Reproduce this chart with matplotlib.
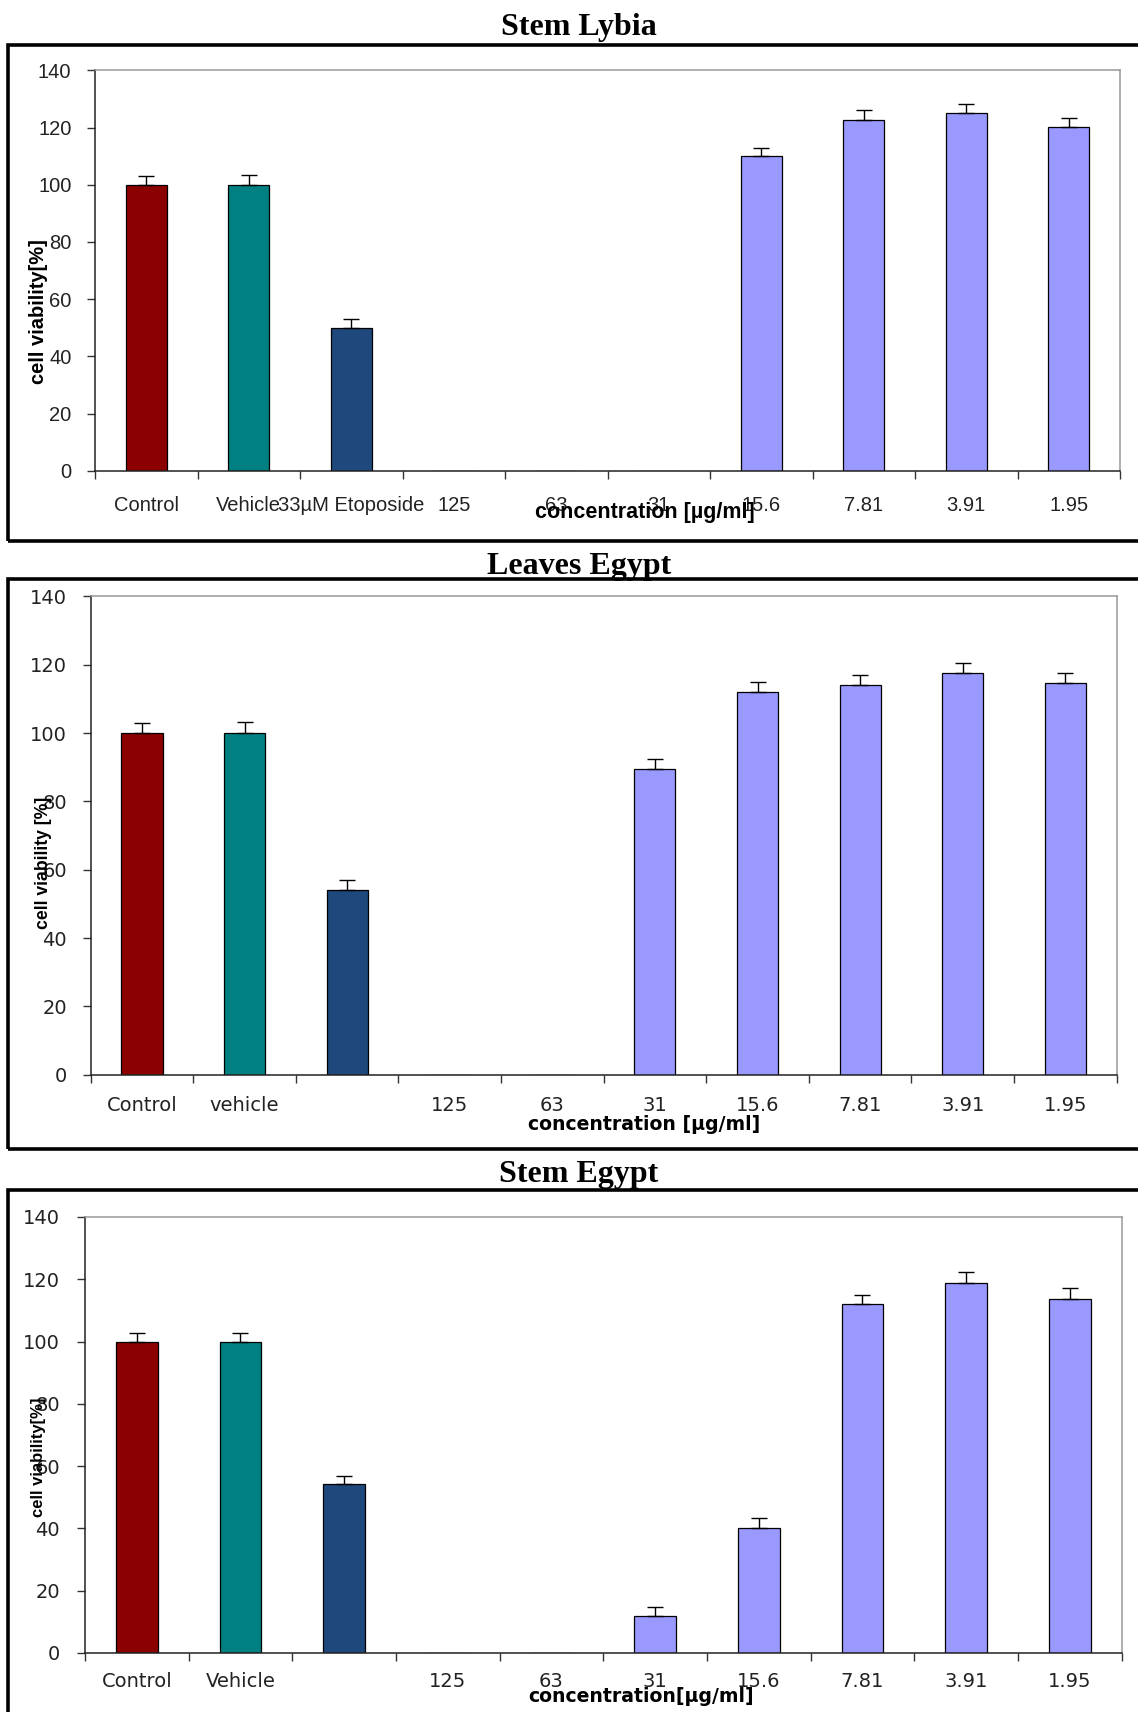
import numpy as np
import matplotlib
matplotlib.use("Agg")
import matplotlib.pyplot as plt
from matplotlib.patches import Rectangle

W, H = 1138, 1712

titles = ["Stem Lybia", "Leaves Egypt", "Stem Egypt"]

labels_lybia = ["Control", "Vehicle", "33µM Etoposide", "125", "63", "31",
                "15.6", "7.81", "3.91", "1.95"]
labels_leaves = ["Control", "vehicle", "", "125", "63", "31",
                 "15.6", "7.81", "3.91", "1.95"]
labels_stem_eg = ["Control", "Vehicle", "", "125", "63", "31",
                  "15.6", "7.81", "3.91", "1.95"]

viab_lybia = [100, 100, 50, 0, 0, 0, 110, 122.5, 125, 120.3]
err_lybia = [3, 3.5, 3, 0, 0, 0, 3, 3.5, 3.4, 3]

viab_leaves = [100, 100, 54, 0, 0, 89.5, 112, 114, 117.7, 114.8]
err_leaves = [3, 3.4, 3, 0, 0, 3, 2.9, 3, 2.9, 2.9]

viab_stem_eg = [100, 100, 54.3, 0, 0, 11.8, 40, 112.2, 118.7, 113.8]
err_stem_eg = [2.9, 2.9, 2.5, 0, 0, 2.9, 3.4, 2.6, 3.6, 3.5]

ylabels = ["cell viability[%]", "cell viability [%]", "cell viability[%]"]
xlabels = ["concentration [µg/ml]", "concentration [µg/ml]", "concentration[µg/ml]"]

bar_colors = ["#8B0000", "#008080", "#1F497D"] + ["#9999FF"] * 7

# pixel layout of the three panels: axes (l, r, t, b), frame (top, bottom)
panels = [
    dict(ax=(95, 1120, 70.4, 470.7), frame=(44.6, 541), title_y=35,
         xl=(645, 518), yl=(38, 311.6), yl_size=14.5, xl_size=15.5,
         xl_font=["Liberation Sans Narrow", "Liberation Sans"],
         tick_font="Liberation Sans", tick_size=14.5, xpad=18, ypad=11),
    dict(ax=(90.7, 1116.6, 596.5, 1074.7), frame=(579.5, 1149), title_y=573.6,
         xl=(644.5, 1130), yl=(44, 863), yl_size=12.7, xl_size=13.6,
         xl_font=["DejaVu Sans"],
         tick_font="DejaVu Sans", tick_size=14, xpad=15.5, ypad=11),
    dict(ax=(85, 1121.6, 1217, 1653), frame=(1190, 1730), title_y=1182,
         xl=(641, 1702), yl=(38, 1457), yl_size=12, xl_size=13.6,
         xl_font=["DejaVu Sans"],
         tick_font="DejaVu Sans", tick_size=14, xpad=13.5, ypad=12),
]

data = [(viab_lybia, err_lybia, labels_lybia),
        (viab_leaves, err_leaves, labels_leaves),
        (viab_stem_eg, err_stem_eg, labels_stem_eg)]

fig = plt.figure(figsize=(W / 100, H / 100), dpi=100)

for i, (p, (vals, errs, labs)) in enumerate(zip(panels, data)):
    l, r, t, b = p["ax"]
    ax = fig.add_axes([l / W, 1 - b / H, (r - l) / W, (b - t) / H])
    x = np.arange(len(vals))
    ax.bar(x, vals, width=0.4, color=bar_colors, edgecolor="black",
           linewidth=0.9, zorder=2)
    xe = [xi for xi, e in zip(x, errs) if e > 0]
    ye = [v for v, e in zip(vals, errs) if e > 0]
    ee = [e for e in errs if e > 0]
    ax.errorbar(xe, ye, yerr=[np.zeros(len(ee)), ee], fmt="none",
                ecolor="black", elinewidth=1, capsize=5.5, capthick=1, zorder=3)

    ax.set_xlim(-0.5, len(vals) - 0.5)
    ax.set_ylim(0, 140)
    ax.set_yticks(range(0, 141, 20))
    ax.set_xticks(np.arange(-0.5, len(vals), 1))
    ax.set_xticklabels([])
    ax.set_xticks(x, labs, minor=True)
    ax.tick_params(axis="x", which="major", direction="out", length=6, width=1,
                   color="#333333")
    ax.tick_params(axis="x", which="minor", length=0, pad=p["xpad"],
                   labelsize=p["tick_size"], labelcolor="#222222")
    ax.tick_params(axis="y", direction="out", length=6, width=1,
                   color="#333333", pad=p["ypad"], labelsize=p["tick_size"],
                   labelcolor="#222222")
    for lab in ax.get_xticklabels(minor=True) + ax.get_yticklabels():
        lab.set_fontfamily(p["tick_font"])

    for s in ["left", "bottom"]:
        ax.spines[s].set_color("#222222")
        ax.spines[s].set_linewidth(1.1)
    for s in ["top", "right"]:
        ax.spines[s].set_color("#999999")
        ax.spines[s].set_linewidth(1.1)

    # thick outer frame, running off the right edge
    ft, fb = p["frame"]
    fig.patches.append(Rectangle((8.4 / W, 1 - fb / H), 1.2, (fb - ft) / H,
                                 transform=fig.transFigure, fill=False,
                                 edgecolor="black", linewidth=2.6))

    fig.text(579 / W, 1 - p["title_y"] / H, titles[i], ha="center",
             va="baseline", fontsize=23, fontweight="bold",
             family="Liberation Serif")
    fig.text(p["yl"][0] / W, 1 - p["yl"][1] / H, ylabels[i], rotation=90,
             ha="center", va="center", fontsize=p["yl_size"],
             fontweight="bold", family="Liberation Sans")
    fig.text(p["xl"][0] / W, 1 - p["xl"][1] / H, xlabels[i], ha="center",
             va="baseline", fontsize=p["xl_size"], fontweight="bold",
             family=p["xl_font"])

fig.savefig("out.png", dpi=100, facecolor="white")
